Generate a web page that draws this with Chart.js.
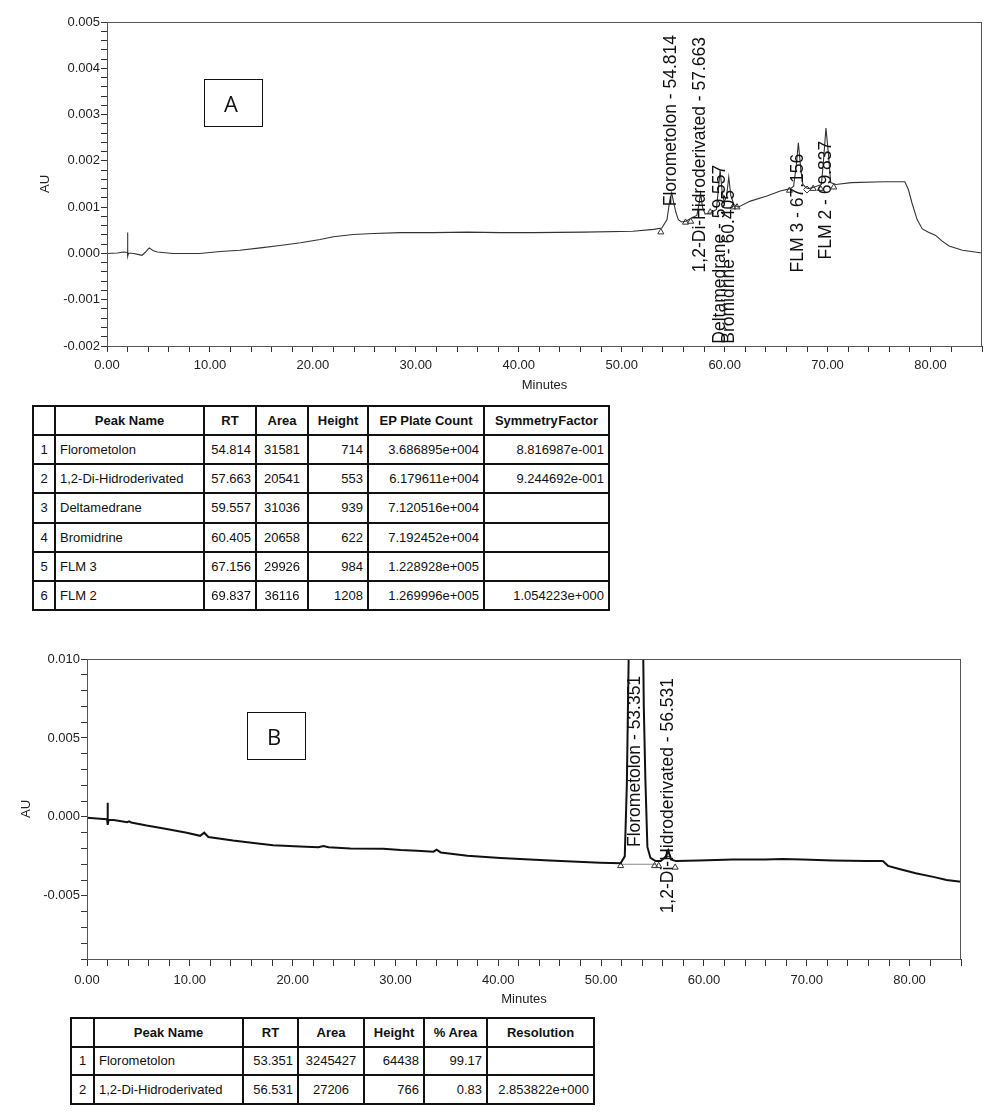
<!DOCTYPE html>
<html>
<head>
<meta charset="utf-8">
<script src="https://cdn.jsdelivr.net/npm/chart.js@4.4.1/dist/chart.umd.min.js"></script>
<style>
  body { margin: 0; background: #fff; font-family: "Liberation Sans", Arial, sans-serif; }
  #page { position: relative; width: 1000px; height: 1114px; overflow: hidden; }
  .wrap { position: absolute; left: 0; }
  .tag { position: absolute; border: 1.5px solid #111; box-sizing: border-box; display: flex;
         align-items: center; justify-content: center; font-family: "Open Sans", sans-serif;
         font-size: 22px; color: #111; padding-right: 5px; }
  table { position: absolute; border-collapse: collapse; table-layout: fixed; font-size: 13px; color: #111; }
  td, th { border: 2px solid #111; padding: 0 4px; white-space: nowrap; overflow: hidden; }
  th { font-weight: bold; text-align: center; }
  td.c { text-align: center; }
  td.l { text-align: left; }
  td.r { text-align: right; }
</style>
</head>
<body>
<div id="page">
  <div class="wrap" style="top:0"><canvas id="chartA" width="1000" height="395"></canvas></div>
  <div class="wrap" style="top:640px"><canvas id="chartB" width="1000" height="370"></canvas></div>
  <div class="tag" style="left:204px;top:79px;width:59px;height:48px">A</div>
  <div class="tag" style="left:247px;top:712px;width:59px;height:48px">B</div>
  <table id="tableA" style="left:32px;top:405px;width:576px;height:206px">
    <colgroup><col style="width:22px"><col style="width:149px"><col style="width:52px"><col style="width:52px"><col style="width:60px"><col style="width:116px"><col style="width:125px"></colgroup>
  </table>
  <table id="tableB" style="left:70px;top:1017px;width:523px;height:88px">
    <colgroup><col style="width:23px"><col style="width:149px"><col style="width:55px"><col style="width:66px"><col style="width:60px"><col style="width:63px"><col style="width:107px"></colgroup>
  </table>
</div>
<script>
// ---- chromatogram A (minutes, AU) ----
const timeA = [0, 1.0, 1.6, 1.98, 2.0, 2.02, 2.1, 2.6, 3.0, 3.4, 3.7, 4.1, 4.5, 4.9, 6.4, 9.0, 11.0, 12.9, 14.9, 16.8,
  18.8, 20.7, 22.0, 23.9, 25.9, 28.5, 31.7, 35.0, 38.2, 41.4, 46.3, 51.1, 53.1, 53.9, 54.4, 54.65, 54.85, 55.05, 55.25, 55.5,
  55.8, 56.3, 56.8, 57.3, 57.5, 57.66, 57.85, 58.1, 58.7, 59.2, 59.4, 59.56, 59.75, 59.95, 60.2, 60.4, 60.6, 60.9, 61.3, 62.5,
  64.1, 65.4, 66.4, 66.7, 66.96, 67.16, 67.4, 67.6, 67.9, 68.2, 68.8, 69.4, 69.6, 69.84, 70.1, 70.3, 70.8, 72.3, 75.5, 77.5,
  77.85, 78.2, 78.7, 79.2, 79.8, 80.5, 81.1, 81.8, 83.1, 85.0];
const auA = [0, 0.00001, 0.00003, 0.00002, 0.00045, -0.00006, 0.00001, 0.0, -0.00002, -0.00004, 0.00002, 0.00012, 0.00006, 0.00003, 0.0, 0.0, 0.00004, 0.00007, 0.00012, 0.00017,
  0.00023, 0.00030, 0.00036, 0.00041, 0.00043, 0.00045, 0.00045, 0.00046, 0.00045, 0.00045, 0.00046, 0.00048, 0.00052, 0.00055, 0.00073, 0.00112, 0.00131, 0.00110, 0.00090, 0.00073,
  0.00068, 0.00070, 0.00077, 0.00082, 0.00105, 0.00130, 0.00100, 0.00085, 0.00088, 0.00095, 0.00140, 0.00180, 0.00135, 0.00110, 0.00125, 0.00165, 0.00125, 0.00106, 0.00100, 0.00113,
  0.00124, 0.00135, 0.00140, 0.00145, 0.00190, 0.00239, 0.00181, 0.00149, 0.00142, 0.00140, 0.00144, 0.00149, 0.00200, 0.00271, 0.00210, 0.00153, 0.00149, 0.00153, 0.00155, 0.00155,
  0.00138, 0.00109, 0.00073, 0.00053, 0.00046, 0.00039, 0.00027, 0.00016, 0.00007, 0.00001];
// integration marks (peak start / end)
const markTimeA = [53.8, 56.2, 56.7, 58.6, 60.8, 61.2, 66.3, 68.6, 69.3, 70.6];
const markAuA = [0.00046, 0.00067, 0.00069, 0.00089, 0.00100, 0.00100, 0.00136, 0.00140, 0.00140, 0.00143];
const diamondTimeA = [68.0];
const diamondAuA = [0.00138];

// peak table A
const peakNamesA = ['Florometolon', '1,2-Di-Hidroderivated', 'Deltamedrane', 'Bromidrine', 'FLM 3', 'FLM 2'];
const rtA = [54.814, 57.663, 59.557, 60.405, 67.156, 69.837];
const areaA = [31581, 20541, 31036, 20658, 29926, 36116];
const heightA = [714, 553, 939, 622, 984, 1208];
const plateA = [36868.95, 61796.11, 71205.16, 71924.52, 122892.8, 126999.6];
const symmetryA = [0.8816987, 0.9244692, null, null, null, 1.054223];
// where each rotated peak label starts (AU)
const labelBaseA = [0.00102, -0.00041, -0.00195, -0.00195, -0.00041, -0.00013];

// ---- chromatogram B ----
const timeB = [0, 1.6, 1.95, 2.0, 2.03, 2.1, 2.6, 3.9, 4.1, 4.3, 5.8, 7.75, 9.7, 11.0, 11.4, 11.8, 14.2, 16.2, 18.1, 20.7,
  22.5, 23.0, 23.5, 25.6, 28.8, 30.5, 32.1, 33.7, 34.0, 34.4, 37.0, 40.2, 45.0, 49.9, 51.9, 52.3, 52.5, 52.7, 52.9, 53.1,
  53.35, 53.6, 53.8, 54.0, 54.15, 54.3, 54.5, 54.8, 55.3, 55.8, 56.3, 56.53, 56.8, 57.3, 59.5, 62.8, 66.0, 67.6, 69.6, 72.5,
  75.8, 77.4, 77.9, 79.0, 80.6, 82.3, 83.6, 85.0];
const auB = [-0.00005, -0.00013, -0.00015, 0.00090, -0.00050, -0.00018, -0.00020, -0.00034, -0.00028, -0.00036, -0.00055, -0.00076, -0.00100, -0.00120, -0.00100, -0.00127, -0.00150, -0.00166, -0.00180, -0.00187,
  -0.00192, -0.00185, -0.00192, -0.00200, -0.00202, -0.00210, -0.00214, -0.00220, -0.00208, -0.00225, -0.00246, -0.00260, -0.00276, -0.00290, -0.00293, -0.00250, 0.00200, 0.01100, 0.03000, 0.05000,
  0.06150, 0.05200, 0.03500, 0.01600, 0.00700, 0.00250, -0.00190, -0.00260, -0.00280, -0.00280, -0.00250, -0.00213, -0.00270, -0.00280, -0.00276, -0.00270, -0.00270, -0.00267, -0.00270, -0.00276,
  -0.00280, -0.00280, -0.00310, -0.00330, -0.00357, -0.00380, -0.00400, -0.00410];
const markTimeB = [51.9, 55.2, 55.6, 56.5, 57.2];
const markAuB = [-0.0031, -0.0031, -0.0031, -0.0024, -0.0032];
const baseTimeB = [51.9, 55.3];
const baseAuB = [-0.0030, -0.0030];

// peak table B
const peakNamesB = ['Florometolon', '1,2-Di-Hidroderivated'];
const rtB = [53.351, 56.531];
const areaB = [3245427, 27206];
const heightB = [64438, 766];
const pctAreaB = [99.17, 0.83];
const resolutionB = [null, 2.853822];
const labelBaseB = [-0.00191, -0.00611];

const FONT = '"Liberation Sans", Arial, sans-serif';

function pts(xs, ys) { return xs.map((x, i) => ({ x: x, y: ys[i] })); }

// Empower style exponent: 3.686895e+004
function fmtExp(v) {
  if (v === null) return '';
  const parts = v.toExponential(6).split('e');
  const sign = parts[1][0] === '-' ? '-' : '+';
  return parts[0] + 'e' + sign + parts[1].replace(/[+-]/, '').padStart(3, '0');
}

function isMult(v, step) {
  const k = v / step;
  return Math.abs(k - Math.round(k)) < 1e-6;
}

// rotated peak names drawn at the retention time
const peakLabels = {
  id: 'peakLabels',
  afterDatasetsDraw(chart, args, opts) {
    const ctx = chart.ctx, xs = chart.scales.x, ys = chart.scales.y;
    ctx.save();
    ctx.font = '17.5px ' + FONT;
    ctx.fillStyle = '#111';
    ctx.textAlign = 'left';
    ctx.textBaseline = 'middle';
    opts.items.forEach(it => {
      ctx.save();
      ctx.translate(xs.getPixelForValue(it.rt), ys.getPixelForValue(it.base));
      ctx.rotate(-Math.PI / 2);
      ctx.fillText(it.text, 0, 0);
      ctx.restore();
    });
    ctx.restore();
  }
};

// box round the plot area
const frame = {
  id: 'frame',
  afterDraw(chart) {
    const a = chart.chartArea, ctx = chart.ctx;
    ctx.save();
    ctx.strokeStyle = '#555';
    ctx.lineWidth = 1;
    ctx.strokeRect(Math.round(a.left) + 0.5, Math.round(a.top) + 0.5, Math.round(a.right - a.left) - 1, Math.round(a.bottom - a.top));
    ctx.restore();
  }
};

function makeChart(id, o) {
  const datasets = [
    { data: o.trace, showLine: true, pointRadius: 0, borderColor: o.lineColor, borderWidth: o.lineWidth, tension: 0 },
    { data: o.marks, showLine: false, pointStyle: 'triangle', pointRadius: 3.5, borderColor: '#333', borderWidth: 1, backgroundColor: 'rgba(255,255,255,0)' }
  ];
  (o.extra || []).forEach(d => datasets.push(d));
  return new Chart(document.getElementById(id), {
    type: 'scatter',
    data: { datasets: datasets },
    options: {
      responsive: false,
      animation: false,
      layout: { padding: o.padding },
      plugins: { legend: { display: false }, tooltip: { enabled: false }, peakLabels: { items: o.labels } },
      scales: {
        x: {
          type: 'linear', min: 0, max: 85,
          afterFit: s => { s.height = o.xHeight; },
          grid: { drawOnChartArea: false, drawTicks: true, tickLength: o.xTick, tickColor: '#333' },
          border: { display: true, color: '#333', width: 1 },
          ticks: {
            stepSize: 2, autoSkip: false, maxRotation: 0, padding: o.xPad, color: '#222',
            font: { family: FONT, size: 13 },
            callback: v => isMult(v, 10) ? v.toFixed(2) : ''
          },
          title: { display: true, text: 'Minutes', color: '#222', font: { family: FONT, size: 13 }, padding: { top: 0, bottom: o.xTitlePad } }
        },
        y: {
          type: 'linear', min: o.yMin, max: o.yMax,
          afterFit: s => { s.width = o.yWidth; },
          grid: { drawOnChartArea: false, drawTicks: true, tickLength: 6, tickColor: '#333' },
          border: { display: true, color: '#333', width: 1 },
          ticks: {
            stepSize: o.yMinor, autoSkip: false, padding: 1, color: '#222',
            font: { family: FONT, size: 13 },
            callback: v => isMult(v, o.yMajor) ? v.toFixed(3) : ''
          },
          title: { display: true, text: 'AU', color: '#222', font: { family: FONT, size: 13 }, padding: { top: o.yTitlePad, bottom: 0 } }
        }
      }
    },
    plugins: [peakLabels, frame]
  });
}

makeChart('chartA', {
  trace: pts(timeA, auA),
  marks: pts(markTimeA, markAuA),
  extra: [{ data: pts(diamondTimeA, diamondAuA), showLine: false, pointStyle: 'rectRot', pointRadius: 3.5, borderColor: '#333', borderWidth: 1, backgroundColor: 'rgba(255,255,255,0)' }],
  lineColor: '#333', lineWidth: 1.1,
  labels: peakNamesA.map((n, i) => ({ text: n + ' - ' + rtA[i].toFixed(3), rt: rtA[i], base: labelBaseA[i] })),
  padding: { left: 0, top: 22, right: 18, bottom: 0 },
  xHeight: 49, yWidth: 107, xTick: 6, xPad: 6, xTitlePad: 2, yTitlePad: 38,
  yMin: -0.002, yMax: 0.005, yMinor: 0.0002, yMajor: 0.001
});

makeChart('chartB', {
  trace: pts(timeB, auB),
  marks: pts(markTimeB, markAuB),
  extra: [{ data: pts(baseTimeB, baseAuB), showLine: true, pointRadius: 0, borderColor: '#888', borderWidth: 1 }],
  lineColor: '#111', lineWidth: 2,
  labels: peakNamesB.map((n, i) => ({ text: n + ' - ' + rtB[i].toFixed(3), rt: rtB[i], base: labelBaseB[i] })),
  padding: { left: 0, top: 19, right: 39, bottom: 0 },
  xHeight: 51, yWidth: 87, xTick: 7, xPad: 7, xTitlePad: 3, yTitlePad: 19,
  yMin: -0.009, yMax: 0.010, yMinor: 0.001, yMajor: 0.005
});

// ---- peak tables ----
function fillTable(id, head, rows) {
  const t = document.getElementById(id);
  let html = '<tr>' + head.map(h => '<th>' + h + '</th>').join('') + '</tr>';
  rows.forEach(r => {
    html += '<tr>' + r.map(c => '<td class="' + c[1] + '">' + c[0] + '</td>').join('') + '</tr>';
  });
  t.insertAdjacentHTML('beforeend', html);
}

fillTable('tableA', ['', 'Peak Name', 'RT', 'Area', 'Height', 'EP Plate Count', '<span style="word-spacing:-3px">Symmetry Factor</span>'],
  peakNamesA.map((n, i) => [
    [i + 1, 'c'], [n, 'l'], [rtA[i].toFixed(3), 'r'], [areaA[i], 'c'], [heightA[i], 'r'],
    [fmtExp(plateA[i]), 'r'], [fmtExp(symmetryA[i]), 'r']
  ]));

fillTable('tableB', ['', 'Peak Name', 'RT', 'Area', 'Height', '% Area', 'Resolution'],
  peakNamesB.map((n, i) => [
    [i + 1, 'c'], [n, 'l'], [rtB[i].toFixed(3), 'r'], [areaB[i], 'c'], [heightB[i], 'r'],
    [pctAreaB[i].toFixed(2), 'r'], [fmtExp(resolutionB[i]), 'r']
  ]));
</script>
</body>
</html>
